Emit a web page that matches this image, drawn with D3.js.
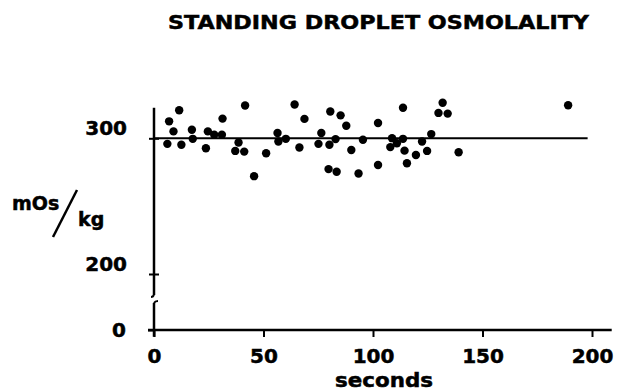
<!DOCTYPE html>
<html>
<head>
<meta charset="utf-8">
<script src="https://cdn.jsdelivr.net/npm/d3@7/dist/d3.min.js"></script>
<style>
  html, body { margin: 0; padding: 0; background: #fff; }
  svg { display: block; }
  text { font-family: "DejaVu Sans", sans-serif; font-weight: bold; fill: #000; stroke: #000; stroke-width: 0.5px; }
</style>
</head>
<body>
<svg id="chart" width="621" height="392"></svg>
<script>
// Droplet osmolality readings (mOs/kg) against standing time (seconds)
const seconds = [
  6.9, 11.5, 8.9, 6.1, 12.5, 17.3, 17.7, 23.7, 24.6, 27.5,
  31.3, 31.0, 38.6, 37.1, 41.2, 41.6, 45.7, 51.2, 56.4, 56.8,
  60.2, 64.2, 68.7, 66.4, 76.4, 75.1, 80.1, 82.9, 80.5, 85.2,
  87.8, 90.1, 79.7, 83.4, 93.4, 95.4, 102.3, 102.3, 113.7, 108.7,
  107.9, 110.9, 113.7, 114.4, 115.5, 119.6, 122.4, 124.7, 126.6, 131.8,
  129.9, 134.1, 139.1, 189.1
];
const osmolality = [
  312.5, 320.7, 305.1, 295.9, 295.2, 306.3, 299.6, 292.7, 305.1, 302.6,
  314.5, 302.6, 296.9, 290.7, 290.2, 324.2, 272.1, 289.0, 303.9, 297.6,
  299.6, 324.9, 314.3, 293.2, 303.9, 295.9, 295.2, 299.4, 319.7, 316.9,
  309.3, 291.4, 277.3, 275.3, 274.1, 298.9, 311.3, 280.3, 322.5, 300.1,
  293.5, 296.4, 299.6, 290.9, 281.6, 287.7, 297.6, 290.7, 303.1, 326.2,
  318.7, 318.2, 289.7, 324.4
];
const xTicks = [0, 50, 100, 150, 200];
const yTicksUpper = [200, 300];
const yTicksLower = [0];
const referenceLevel = 300;

const svg = d3.select("#chart");
svg.append("rect").attr("width", 621).attr("height", 392).attr("fill", "#fff");

const x = d3.scaleLinear().domain([0, 200]).range([154, 592]);
// upper part of the broken y axis
const yUp = d3.scaleLinear().domain([200, 300]).range([274, 138.3]);
// short stub below the break, carrying only zero
const yLow = d3.scaleLinear().domain([0, 20]).range([330, 303]);
const baseY = yLow(0);
const axisX = x(0);

// Title (wide, heavy lettering)
svg.append("text")
  .attr("x", 168).attr("y", 29)
  .attr("textLength", 421).attr("lengthAdjust", "spacingAndGlyphs")
  .style("font-size", "19px")
  .text("STANDING DROPLET OSMOLALITY");

// Reference line at 300
svg.append("line")
  .attr("x1", axisX).attr("x2", x(198))
  .attr("y1", yUp(referenceLevel)).attr("y2", yUp(referenceLevel))
  .attr("stroke", "#000").attr("stroke-width", 2);

// X axis
const gx = svg.append("g").attr("transform", `translate(0,${baseY})`)
  .call(d3.axisBottom(x).tickValues(xTicks).tickSizeInner(7).tickSizeOuter(0).tickPadding(12));
gx.select(".domain").remove();
gx.append("line")
  .attr("x1", axisX - 6).attr("x2", x(209))
  .attr("stroke", "#000").attr("stroke-width", 2.5);
gx.selectAll(".tick line").attr("stroke", "#000").attr("stroke-width", 2);
gx.selectAll(".tick text")
  .style("font-size", "20px").style("font-family", "'DejaVu Sans', sans-serif");

svg.append("text")
  .attr("x", 335).attr("y", 387)
  .attr("textLength", 98).attr("lengthAdjust", "spacingAndGlyphs")
  .style("font-size", "20px")
  .text("seconds");

// Y axis, upper segment
const gyU = svg.append("g").attr("transform", `translate(${axisX},0)`)
  .call(d3.axisLeft(yUp).tickValues(yTicksUpper).tickSizeInner(5).tickSizeOuter(0).tickPadding(22));
gyU.select(".domain").remove();
gyU.append("line")
  .attr("y1", yUp(322.5)).attr("y2", yUp(184.5))
  .attr("stroke", "#000").attr("stroke-width", 2.5);
gyU.selectAll(".tick line").attr("x1", -5).attr("x2", 5).attr("stroke", "#000").attr("stroke-width", 2);
gyU.selectAll(".tick text")
  .attr("dy", "-0.2em")
  .style("font-size", "20px").style("font-family", "'DejaVu Sans', sans-serif");
// break curl at the bottom end
gyU.append("path")
  .attr("d", `M0,${yUp(184.5)} q-1,2 -3,2`)
  .attr("fill", "none").attr("stroke", "#000").attr("stroke-width", 2);

// Y axis, lower segment
const gyL = svg.append("g").attr("transform", `translate(${axisX},0)`)
  .call(d3.axisLeft(yLow).tickValues(yTicksLower).tickSizeInner(6).tickSizeOuter(0).tickPadding(22));
gyL.select(".domain").remove();
gyL.append("line")
  .attr("y1", yLow(20)).attr("y2", yLow(-5))
  .attr("stroke", "#000").attr("stroke-width", 2.5);
gyL.append("path")
  .attr("d", `M0,${yLow(20)} q1,-2 4,-2`)
  .attr("fill", "none").attr("stroke", "#000").attr("stroke-width", 2);
gyL.selectAll(".tick line").attr("stroke", "#000").attr("stroke-width", 2);
gyL.selectAll(".tick text")
  .style("font-size", "20px").style("font-family", "'DejaVu Sans', sans-serif");

// Y axis unit label: mOs / kg
svg.append("text").attr("x", 12).attr("y", 210).style("font-size", "19px").text("mOs");
svg.append("line")
  .attr("x1", 77).attr("y1", 190).attr("x2", 53).attr("y2", 237)
  .attr("stroke", "#000").attr("stroke-width", 2.5);
svg.append("text").attr("x", 78).attr("y", 226).style("font-size", "19px").text("kg");

// Data points
svg.append("g").selectAll("circle")
  .data(seconds.map((s, i) => [s, osmolality[i]]))
  .join("circle")
  .attr("cx", d => x(d[0]))
  .attr("cy", d => yUp(d[1]))
  .attr("r", 4.2)
  .attr("fill", "#000");
</script>
</body>
</html>
